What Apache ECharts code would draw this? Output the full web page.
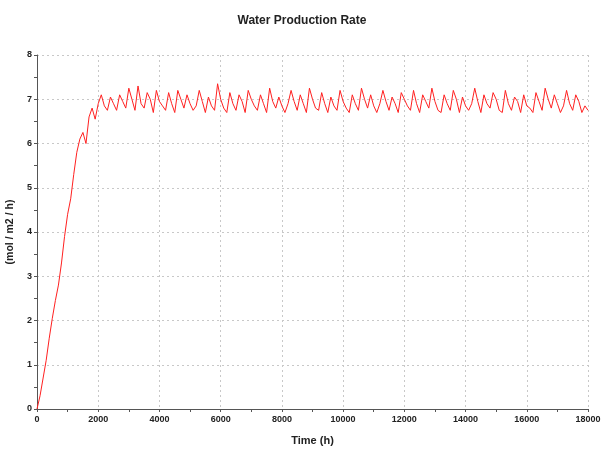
<!DOCTYPE html>
<html>
<head>
<meta charset="utf-8">
<script src="https://cdn.jsdelivr.net/npm/echarts@6/dist/echarts.min.js"></script>
<style>html,body{margin:0;padding:0;background:#fff;}#c{width:604px;height:450px;}</style>
</head>
<body>
<div id="c"></div>
<script>
const titleText = "Water Production Rate";
const xName = "Time (h)";
const yName = "(mol / m2 / h)";
const timeStep = 100;
const riseValues = [0, 0.3, 0.7, 1.1, 1.6, 2.05, 2.45, 2.8, 3.3, 3.9, 4.4, 4.75, 5.3, 5.8, 6.1, 6.25, 6.0, 6.6, 6.8, 6.55, 6.9, 7.1, 6.85];
const plateauValues = [
  6.75, 7.05, 6.9, 6.75, 7.1, 6.95, 6.8, 7.25, 7.0, 6.75,
  7.3, 6.9, 6.8, 7.15, 7.0, 6.7, 7.2, 6.95, 6.85, 6.75,
  7.15, 6.9, 6.7, 7.2, 7.0, 6.8, 7.1, 6.9, 6.75, 6.85,
  7.2, 6.95, 6.7, 7.05, 6.85, 6.75, 7.35, 7.0, 6.8, 6.7,
  7.15, 6.9, 6.75, 7.1, 6.95, 6.7, 7.2, 7.0, 6.85, 6.75,
  7.1, 6.9, 6.7, 7.25, 6.95, 6.8, 7.05, 6.85, 6.7, 6.9,
  7.2, 6.95, 6.75, 7.1, 6.9, 6.7, 7.25, 7.0, 6.8, 6.75,
  7.15, 6.9, 6.7, 7.05, 6.85, 6.75, 7.2, 6.95, 6.8, 6.7,
  7.1, 6.9, 6.75, 7.25, 7.0, 6.8, 7.1, 6.85, 6.7, 6.9,
  7.2, 6.95, 6.75, 7.05, 6.9, 6.7, 7.15, 7.0, 6.85, 6.75,
  7.2, 6.9, 6.7, 7.1, 6.95, 6.8, 7.25, 6.95, 6.75, 6.7,
  7.1, 6.9, 6.75, 7.2, 7.0, 6.7, 7.05, 6.85, 6.75, 6.9,
  7.25, 6.95, 6.7, 7.1, 6.9, 6.8, 7.15, 7.0, 6.75, 6.7,
  7.2, 6.9, 6.75, 7.05, 6.95, 6.7, 7.1, 6.85, 6.8, 6.7,
  7.15, 6.95, 6.75, 7.25, 7.0, 6.8, 7.1, 6.9, 6.7, 6.85,
  7.2, 6.9, 6.75, 7.1, 6.95, 6.7, 6.85, 6.75
];
const yValues = riseValues.concat(plateauValues);
const seriesData = yValues.map((v, i) => [i * timeStep, v]);

const chart = echarts.init(document.getElementById('c'), null, {renderer: 'canvas'});
const labelStyle = {fontFamily: 'Liberation Sans, Arial, sans-serif', fontSize: 9, fontWeight: 'bold', color: '#222'};
chart.setOption({
  animation: false,
  backgroundColor: '#ffffff',
  title: {
    text: titleText, left: 'center', top: 10,
    textStyle: {fontFamily: 'Liberation Sans, Arial, sans-serif', fontSize: 12, fontWeight: 'bold', color: '#222'}
  },
  grid: {left: 37, right: 16, top: 55, bottom: 41, containLabel: false, outerBoundsMode: 'none'},
  xAxis: {
    type: 'value', min: 0, max: 18000, interval: 2000,
    name: xName, nameLocation: 'middle', nameGap: 26,
    nameTextStyle: Object.assign({}, labelStyle, {fontSize: 11}),
    axisLine: {show: true, lineStyle: {color: '#555', width: 1}},
    axisTick: {show: true, length: 3, lineStyle: {color: '#555'}},
    minorTick: {show: true, splitNumber: 2, length: 3, lineStyle: {color: '#555'}},
    axisLabel: Object.assign({margin: 6, formatter: v => String(v)}, labelStyle),
    splitLine: {show: true, lineStyle: {color: '#c8c8c8', type: [2, 3], width: 1}}
  },
  yAxis: {
    type: 'value', min: 0, max: 8, interval: 1,
    name: yName, nameLocation: 'middle', nameGap: 19, nameRotate: 90,
    nameTextStyle: Object.assign({}, labelStyle, {fontSize: 10.5}),
    axisLine: {show: true, lineStyle: {color: '#555', width: 1}},
    axisTick: {show: true, length: 3, lineStyle: {color: '#555'}},
    minorTick: {show: true, splitNumber: 2, length: 3, lineStyle: {color: '#555'}},
    axisLabel: Object.assign({margin: 5}, labelStyle),
    splitLine: {show: true, lineStyle: {color: '#c8c8c8', type: [2, 3], width: 1}}
  },
  series: [{
    type: 'line', data: seriesData, showSymbol: false, symbol: 'none',
    lineStyle: {color: '#ff2020', width: 1}, itemStyle: {color: '#ff2020'}
  }]
});
</script>
</body>
</html>
